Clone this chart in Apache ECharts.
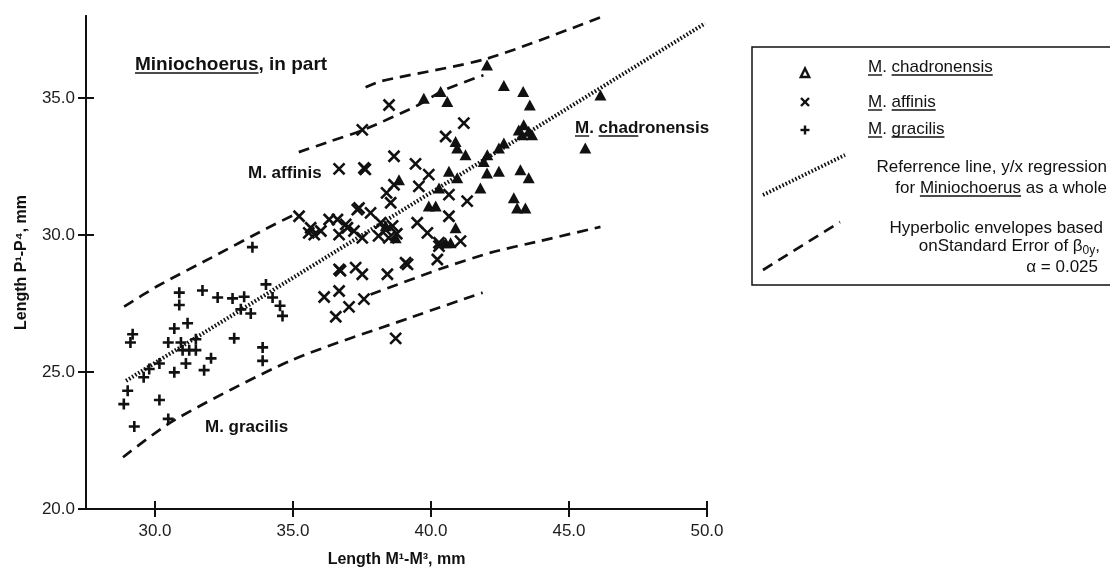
<!DOCTYPE html>
<html>
<head>
<meta charset="utf-8">
<script src="https://cdn.jsdelivr.net/npm/echarts@6/dist/echarts.min.js"></script>
<style>
  html, body { margin: 0; padding: 0; background: #fff; }
  #chart { width: 1110px; height: 573px; }
</style>
</head>
<body>
<div id="chart"></div>
<script>
// Tick values on both axes (mm)
const xTicks = [30, 35, 40, 45, 50];
const yTicks = [20, 25, 30, 35];

// [Length M1-M3, Length P1-P4] in mm
const chadronensis = [
  [42.03, 36.21], [42.64, 35.46], [39.74, 35.00], [40.35, 35.24], [40.59, 34.88],
  [43.34, 35.24], [43.58, 34.75], [46.14, 35.12], [45.59, 33.18],
  [43.18, 33.84], [43.36, 34.03], [43.54, 33.79], [43.66, 33.66], [43.30, 33.66],
  [42.64, 33.36], [42.46, 33.18], [42.04, 32.93], [41.91, 32.69], [41.25, 32.93],
  [40.89, 33.42], [40.95, 33.18], [40.65, 32.33], [40.95, 32.09], [42.03, 32.27],
  [42.46, 32.33], [43.24, 32.39], [43.54, 32.09], [41.79, 31.72],
  [39.92, 31.06], [40.17, 31.06], [43.00, 31.36], [43.12, 30.99], [43.42, 30.99],
  [40.89, 30.27], [40.53, 29.72], [40.71, 29.72], [38.84, 32.02], [40.29, 31.72],
  [38.36, 30.34], [38.72, 29.90]
];

const affinis = [
  [38.48, 34.75], [37.51, 33.84], [36.67, 32.42], [37.57, 32.45], [37.62, 32.40],
  [38.66, 32.88], [41.19, 34.09], [40.53, 33.60], [39.44, 32.60], [39.92, 32.21],
  [39.56, 31.78], [40.65, 31.48], [41.31, 31.24], [38.54, 31.18], [37.39, 30.99],
  [37.81, 30.81], [40.65, 30.69], [39.50, 30.45], [39.87, 30.08], [40.29, 29.72],
  [41.07, 29.78], [40.23, 29.11], [39.08, 28.99], [39.15, 28.93], [38.42, 28.57],
  [37.27, 28.81], [37.51, 28.57], [36.67, 28.75], [36.72, 28.70], [36.13, 27.74],
  [36.67, 27.96], [36.55, 27.02], [37.03, 27.38], [37.57, 27.66], [38.72, 26.23],
  [35.22, 30.69], [35.64, 30.27], [35.57, 30.08], [36.31, 30.57], [36.67, 30.02],
  [36.01, 30.15], [35.77, 30.02], [36.97, 30.27], [37.33, 30.93], [37.21, 30.15],
  [37.51, 29.90], [36.91, 30.39], [36.61, 30.57], [38.18, 30.45], [38.36, 30.19],
  [38.61, 30.34], [38.47, 29.90], [38.76, 30.05], [38.10, 29.97], [38.66, 31.84],
  [38.39, 31.54], [40.29, 29.60]
];

const gracilis = [
  [29.19, 26.38], [29.11, 26.08], [30.88, 27.90], [30.88, 27.45], [31.72, 27.98],
  [32.27, 27.72], [32.81, 27.69], [33.23, 27.75], [33.53, 29.56], [34.02, 28.20],
  [34.26, 27.72], [33.11, 27.29], [33.47, 27.14], [34.53, 27.42], [34.62, 27.05],
  [30.70, 26.59], [31.18, 26.78], [30.48, 26.08], [30.94, 26.08], [31.00, 25.80],
  [31.24, 25.80], [31.48, 25.80], [31.48, 26.20], [32.87, 26.23], [33.90, 25.90],
  [33.90, 25.41], [32.03, 25.50], [31.78, 25.07], [31.12, 25.31], [30.70, 24.99],
  [30.16, 25.31], [29.79, 25.11], [29.59, 24.81], [29.01, 24.32], [28.87, 23.83],
  [30.16, 23.98], [30.48, 23.29], [29.25, 23.01]
];

// y/x regression for the genus as a whole
const referenceLine = [[28.95, 24.68], [49.93, 37.73]];

// Hyperbolic envelope pieces
const envelopeUpperLeft = [[28.88, 27.39], [30.11, 28.15], [32.03, 29.17], [34.02, 30.23], [35.03, 30.74]];
const envelopeUpperMid = [[35.21, 33.03], [36.37, 33.43], [37.53, 33.83], [39.52, 34.74], [40.46, 35.29], [41.90, 35.84]];
const envelopeUpperTop = [[37.63, 35.40], [38.18, 35.62], [42.05, 36.45], [46.21, 37.98]];
const envelopeLowerRight = [[37.81, 27.83], [40.35, 28.77], [42.16, 29.36], [43.97, 29.79], [46.14, 30.30]];
const envelopeLowerBottom = [[28.84, 21.89], [30.69, 23.24], [34.92, 25.42], [39.26, 26.99], [41.87, 27.90]];

const INK = '#111';
const FAMILY = '"Liberation Sans", Arial, sans-serif';
const CROSS = 'path://M0,0L10,10M10,0L0,10';
const PLUS = 'path://M5,0L5,10M0,5L10,5';

const measureCtx = document.createElement('canvas').getContext('2d');
function textWidth(str, font) {
  measureCtx.font = font;
  return measureCtx.measureText(str).width;
}
function fontOf(size, weight) {
  return (weight || 'normal') + ' ' + size + 'px ' + FAMILY;
}

// Text element helper
function label(text, x, y, size, weight, align) {
  return {
    type: 'text', x: x, y: y, z: 20,
    style: {
      text: text, font: fontOf(size, weight), fill: INK,
      align: align || 'left', verticalAlign: 'middle'
    }
  };
}
// Straight stroke helper
function stroke(x1, y1, x2, y2, width, dash) {
  const el = {
    type: 'line', z: 20,
    shape: { x1: x1, y1: y1, x2: x2, y2: y2 },
    style: { stroke: INK, lineWidth: width }
  };
  if (dash) el.style.lineDash = dash;
  return el;
}
// Underline under `word`, which follows `prefix` in a text starting at `left`
function underline(prefix, word, left, y, size, weight) {
  const f = fontOf(size, weight);
  const x1 = left + textWidth(prefix, f);
  const x2 = x1 + textWidth(word, f);
  return stroke(x1, y, x2, y, 1.4);
}

function envelopeSeries(data) {
  return {
    type: 'line', data: data, symbol: 'none', smooth: 0.25, z: 2,
    lineStyle: { color: INK, width: 2.7, type: [11, 7] }
  };
}

const graphics = [];

// Plot annotations
graphics.push(label('Miniochoerus, in part', 135, 65, 19, 'bold'));
graphics.push(underline('', 'Miniochoerus', 135, 73, 19, 'bold'));
graphics.push(label('M. affinis', 248, 173, 17, 'bold'));
graphics.push(label('M. chadronensis', 575, 128, 17, 'bold'));
graphics.push(underline('', 'M', 575, 136, 17, 'bold'));
graphics.push(underline('M. ', 'chad', 575, 136, 17, 'bold'));
graphics.push(label('M. gracilis', 205, 427, 17, 'bold'));

// Legend box
graphics.push({
  type: 'rect', z: 10,
  shape: { x: 752, y: 47, width: 400, height: 238 },
  style: { fill: 'none', stroke: INK, lineWidth: 1.5 }
});
// Legend markers
graphics.push({
  type: 'polygon', z: 20,
  shape: { points: [[805, 68.5], [800.8, 77], [809.2, 77]] },
  style: { fill: '#fff', stroke: INK, lineWidth: 2.4 }
});
graphics.push(stroke(801, 98, 809, 106, 2.4));
graphics.push(stroke(809, 98, 801, 106, 2.4));
graphics.push(stroke(805, 125.5, 805, 134.5, 2.4));
graphics.push(stroke(800.5, 130, 809.5, 130, 2.4));
graphics.push(stroke(763, 195, 845, 155, 3.8, [1.6, 2.0]));
graphics.push(stroke(763, 270, 840, 222, 2.7, [11, 7]));

// Legend texts
const LS = 17;
[['M. chadronensis', 'chadronensis', 67], ['M. affinis', 'affinis', 102], ['M. gracilis', 'gracilis', 129]]
  .forEach(function (row) {
    graphics.push(label(row[0], 868, row[2], LS));
    graphics.push(underline('', 'M', 868, row[2] + 8, LS));
    graphics.push(underline('M. ', row[1], 868, row[2] + 8, LS));
  });

graphics.push(label('Referrence line, y/x regression', 1107, 167, LS, 'normal', 'right'));
const forLine = 'for Miniochoerus as a whole';
graphics.push(label(forLine, 1107, 188, LS, 'normal', 'right'));
graphics.push(underline('for ', 'Miniochoerus', 1107 - textWidth(forLine, fontOf(LS)), 196, LS));

graphics.push(label('Hyperbolic envelopes based', 1103, 228, LS, 'normal', 'right'));
(function () {
  const main = 'onStandard Error of \u03B2';
  const sub = '0y';
  const tail = ',';
  const w1 = textWidth(main, fontOf(LS));
  const w2 = textWidth(sub, fontOf(12));
  const w3 = textWidth(tail, fontOf(LS));
  const left = 1100 - (w1 + w2 + w3);
  graphics.push(label(main, left, 246, LS));
  graphics.push(label(sub, left + w1, 251, 12));
  graphics.push(label(tail, left + w1 + w2, 246, LS));
})();
graphics.push(label('\u03B1 = 0.025', 1098, 267, LS, 'normal', 'right'));

// Ticks cross the axis lines: outer ticks come from the labelled axes,
// inner ticks from twin axes sharing the same extent.
const tickStyle = { color: INK, width: 2 };
const lineStyle = { color: INK, width: 2 };

const option = {
  animation: false,
  backgroundColor: '#fff',
  grid: { left: 86, right: 403, top: 16, bottom: 61, containLabel: false },
  xAxis: [
    {
      type: 'value', min: 27.5, max: 50, position: 'bottom', splitLine: { show: false },
      name: 'Length M\u00B9-M\u00B3, mm', nameLocation: 'middle', nameGap: 43,
      nameTextStyle: { fontFamily: FAMILY, fontWeight: 'bold', fontSize: 16, color: INK },
      axisLine: { show: true, onZero: false, lineStyle: lineStyle },
      axisTick: { show: true, length: 8, customValues: xTicks, lineStyle: tickStyle },
      axisLabel: {
        customValues: xTicks, margin: 14, fontFamily: FAMILY, fontSize: 17, color: '#1c1c1c',
        formatter: function (v) { return v.toFixed(1); }
      }
    },
    {
      type: 'value', min: 27.5, max: 50, position: 'bottom', splitLine: { show: false },
      axisLine: { show: true, onZero: false, lineStyle: lineStyle },
      axisTick: { show: true, inside: true, length: 8, customValues: xTicks, lineStyle: tickStyle },
      axisLabel: { show: false }
    }
  ],
  yAxis: [
    {
      type: 'value', min: 20, max: 38, position: 'left', splitLine: { show: false },
      name: 'Length P\u00B9-P\u2074, mm', nameLocation: 'middle', nameGap: 56,
      nameTextStyle: { fontFamily: FAMILY, fontWeight: 'bold', fontSize: 16, color: INK },
      axisLine: { show: true, onZero: false, lineStyle: lineStyle },
      axisTick: { show: true, length: 8, customValues: yTicks, lineStyle: tickStyle },
      axisLabel: {
        customValues: yTicks, margin: 11, fontFamily: FAMILY, fontSize: 17, color: '#1c1c1c',
        formatter: function (v) { return v.toFixed(1); }
      }
    },
    {
      type: 'value', min: 20, max: 38, position: 'left', splitLine: { show: false },
      axisLine: { show: true, onZero: false, lineStyle: lineStyle },
      axisTick: { show: true, inside: true, length: 8, customValues: yTicks, lineStyle: tickStyle },
      axisLabel: { show: false }
    }
  ],
  series: [
    {
      name: 'Reference line', type: 'line', data: referenceLine, symbol: 'none', z: 3,
      lineStyle: { color: INK, width: 4, type: [1.6, 2.0] }
    },
    envelopeSeries(envelopeUpperLeft),
    envelopeSeries(envelopeUpperMid),
    envelopeSeries(envelopeUpperTop),
    envelopeSeries(envelopeLowerRight),
    envelopeSeries(envelopeLowerBottom),
    {
      name: 'M. chadronensis', type: 'scatter', data: chadronensis, z: 5,
      symbol: 'triangle', symbolSize: [12, 11],
      itemStyle: { color: INK, opacity: 1 }
    },
    {
      name: 'M. affinis', type: 'scatter', data: affinis, z: 5,
      symbol: CROSS, symbolSize: 11,
      itemStyle: { color: 'rgba(0,0,0,0)', borderColor: INK, borderWidth: 2.6, opacity: 1 }
    },
    {
      name: 'M. gracilis', type: 'scatter', data: gracilis, z: 5,
      symbol: PLUS, symbolSize: 11,
      itemStyle: { color: 'rgba(0,0,0,0)', borderColor: INK, borderWidth: 2.6, opacity: 1 }
    }
  ],
  graphic: graphics
};

const chart = echarts.init(document.getElementById('chart'), null, { renderer: 'canvas' });
chart.setOption(option);
</script>
</body>
</html>
